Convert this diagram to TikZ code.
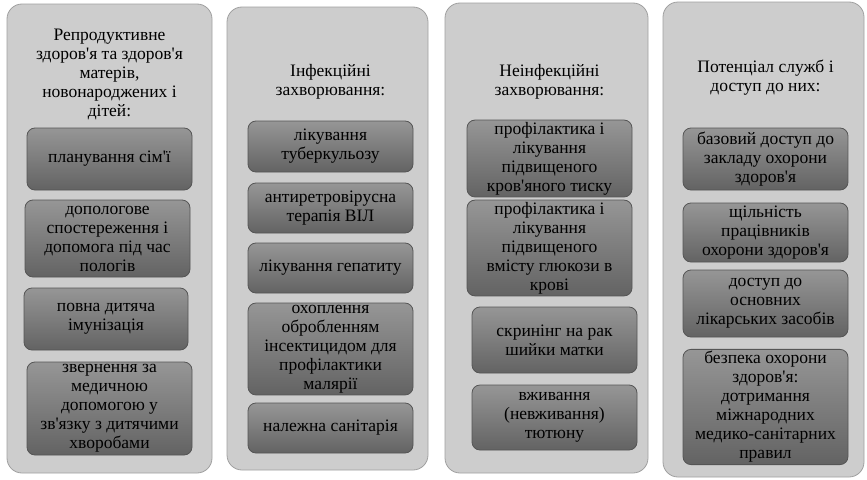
\documentclass[tikz,border=0pt]{standalone}
\usepackage{fontspec}
\setmainfont{Liberation Serif}[Ligatures=TeXOff]
\usepackage{tikz}
\usetikzlibrary{positioning}
\definecolor{panelgray}{RGB}{205, 205, 205}
\definecolor{paneledge}{RGB}{160, 160, 160}
\definecolor{itemgray}{RGB}{110, 110, 110}
\definecolor{itemtop}{RGB}{150, 150, 150}
\definecolor{itemedge}{RGB}{85, 85, 85}

\tikzset{
    panel/.style={draw=paneledge, fill=panelgray, rounded corners=15pt, line width=0.8pt},
    itembox/.style={draw=itemedge, rounded corners=8pt, line width=0.8pt,
        top color=itemtop, middle color=itemgray, bottom color=itemgray!90!black,
        align=center, inner sep=2pt, text=black},
    headtxt/.style={align=center, text=black},
}

\begin{document}
\begin{tikzpicture}[x=1pt, y=-1pt, font=\fontsize{17.5}{19}\selectfont]
    \useasboundingbox (0,0) rectangle (867,479);

    % panels
    \node[panel, minimum width=205pt, minimum height=469pt] (rph) at (109.5,238.5) {};
    \node[panel, minimum width=201pt, minimum height=463pt] (inf) at (327.5,238.5) {};
    \node[panel, minimum width=203pt, minimum height=470pt] (ninf) at (546.5,238) {};
    \node[panel, minimum width=201pt, minimum height=475pt] (srv) at (763.5,239.5) {};

    % titles
    \node[headtxt] (rphT) at (109.5,74) {Репродуктивне\\здоров'я та здоров'я\\матерів,\\новонароджених і\\дітей:};
    \node[headtxt] (infT) at (330.5,82) {Інфекційні\\захворювання:};
    \node[headtxt] (ninfT) at (549.5,82) {Неінфекційні\\захворювання:};
    \node[headtxt] (srvT) at (765.5,78) {Потенціал служб і\\доступ до них:};

    % reproductive health
    \node[itembox, minimum width=165pt, minimum height=62pt] (rph1) at (109.5,159) {планування сім'ї};
    \node[itembox, minimum width=165pt, minimum height=77pt] (rph2) at (107.5,238.5) {допологове\\спостереження і\\допомога під час\\пологів};
    \node[itembox, minimum width=164pt, minimum height=62pt] (rph3) at (106,319) {повна дитяча\\імунізація};
    \node[itembox, minimum width=165pt, minimum height=93pt] (rph4) at (109.5,408.5) {звернення за\\медичною\\допомогою у\\зв'язку з дитячими\\хворобами};

    % infectious diseases
    \node[itembox, minimum width=165pt, minimum height=51pt] (inf1) at (330.5,146.5) {лікування\\туберкульозу};
    \node[itembox, minimum width=165pt, minimum height=50pt] (inf2) at (330.5,208) {антиретровірусна\\терапія ВІЛ};
    \node[itembox, minimum width=165pt, minimum height=50pt] (inf3) at (330.5,268) {лікування гепатиту};
    \node[itembox, minimum width=165pt, minimum height=88pt] (inf4) at (330.5,349) {охоплення\\обробленням\\інсектицидом для\\профілактики\\малярії};
    \node[itembox, minimum width=165pt, minimum height=50pt] (inf5) at (330.5,428) {належна санітарія};

    % noncommunicable diseases
    \node[itembox, minimum width=165pt, minimum height=67pt] (ninf1) at (549.5,158.5) {профілактика і\\лікування\\підвищеного\\кров'яного тиску};
    \node[itembox, minimum width=165pt, minimum height=90pt] (ninf2) at (549.5,248) {профілактика і\\лікування\\підвищеного\\вмісту глюкози в\\крові};
    \node[itembox, minimum width=165pt, minimum height=66pt] (ninf3) at (554.5,340) {скринінг на рак\\шийки матки};
    \node[itembox, minimum width=165pt, minimum height=65pt] (ninf4) at (554.5,417.5) {вживання\\(невживання)\\тютюну};

    % service capacity and access
    \node[itembox, minimum width=165pt, minimum height=62pt] (srv1) at (765.5,159) {базовий доступ до\\закладу охорони\\здоров'я};
    \node[itembox, minimum width=165pt, minimum height=59pt] (srv2) at (765.5,232.5) {щільність\\працівників\\охорони здоров'я};
    \node[itembox, minimum width=165pt, minimum height=67pt] (srv3) at (765.5,303.5) {доступ до\\основних\\лікарських засобів};
    \node[itembox, minimum width=165pt, minimum height=110pt] (srv4) at (765.5,407) {безпека охорони\\здоров'я:\\дотримання\\міжнародних\\медико-санітарних\\правил};
\end{tikzpicture}
\end{document}
